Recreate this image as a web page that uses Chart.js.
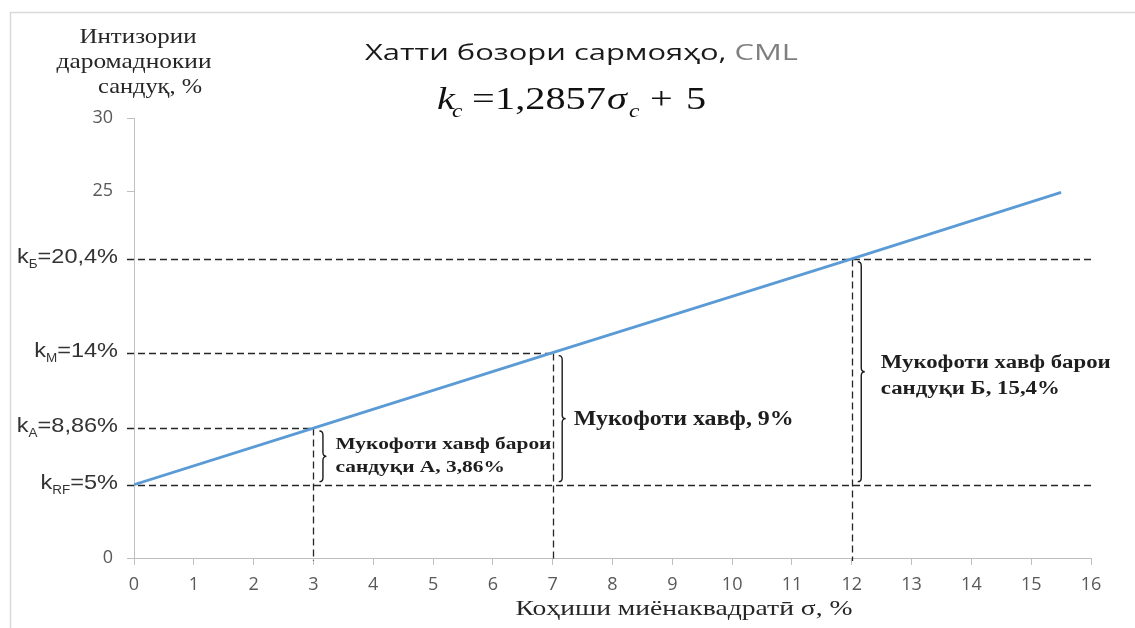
<!DOCTYPE html>
<html>
<head>
<meta charset="utf-8">
<script src="https://cdn.jsdelivr.net/npm/chart.js@4.4.1/dist/chart.umd.min.js"></script>
<style>
    html, body { margin: 0; padding: 0; background: #fff; }
    #wrap { width: 1135px; height: 628px; position: relative; }
</style>
</head>
<body>
<div id="wrap"><canvas id="cmlChart"></canvas></div>
<script>
// Capital market line: k = 1,2857 * sigma + 5
const sigmaValues = [0, 3, 7, 12, 15.5];
const returnValues = [5, 8.86, 14, 20.4, 24.93];

// marked portfolios: risk free, A, market, Б
const markSubs = ['RF', 'A', 'M', 'Б'];
const markSigma = [0, 3, 7, 12];
const markReturn = [5, 8.86, 14, 20.4];
const markText = ['=5%', '=8,86%', '=14%', '=20,4%'];
const guideEnd = [16, 3, 7, 16];

const yTickLabels = [0, 25, 30];

const premiumLines = [
    ['Мукофоти хавф барои', 'сандуқи А, 3,86%'],
    ['Мукофоти хавф, 9%'],
    ['Мукофоти хавф барои', 'сандуқи Б, 15,4%']
];

const AXIS_GRAY = '#bfbfbf';
const TEXT_DARK = '#1e1e1e';

// draw text squeezed/stretched to a given width
function fitText(ctx, text, x, y, w, align) {
    const m = ctx.measureText(text).width;
    ctx.save();
    ctx.translate(x, y);
    ctx.scale(w / m, 1);
    ctx.textAlign = align || 'left';
    ctx.fillText(text, 0, 0);
    ctx.restore();
}

function drawStretched(ctx, text, x, y, sx) {
    ctx.save();
    ctx.translate(x, y);
    ctx.scale(sx, 1);
    ctx.textAlign = 'left';
    ctx.fillText(text, 0, 0);
    ctx.restore();
}

function drawBrace(ctx, x, yTop, yBot, w) {
    const mid = (yTop + yBot) / 2;
    const r = 4;
    const cx = x + w / 2;
    ctx.beginPath();
    ctx.moveTo(x, yTop);
    ctx.quadraticCurveTo(cx, yTop, cx, yTop + r);
    ctx.lineTo(cx, mid - r);
    ctx.quadraticCurveTo(cx, mid, x + w, mid);
    ctx.quadraticCurveTo(cx, mid, cx, mid + r);
    ctx.lineTo(cx, yBot - r);
    ctx.quadraticCurveTo(cx, yBot, x, yBot);
    ctx.stroke();
}

const cmlDecor = {
    id: 'cmlDecor',
    beforeDraw(chart) {
        const ctx = chart.ctx;
        ctx.save();
        ctx.fillStyle = '#fff';
        ctx.fillRect(0, 0, chart.width, chart.height);
        // outer frame (only top and left are inside the picture)
        ctx.strokeStyle = '#d9d9d9';
        ctx.lineWidth = 1.5;
        ctx.beginPath();
        ctx.moveTo(10.5, chart.height);
        ctx.lineTo(10.5, 12.5);
        ctx.lineTo(chart.width, 12.5);
        ctx.stroke();
        ctx.restore();
    },
    beforeDatasetsDraw(chart) {
        const {ctx, scales: {x, y}} = chart;
        ctx.save();
        ctx.strokeStyle = '#262626';
        ctx.lineWidth = 1.3;
        ctx.setLineDash([7, 4]);
        markReturn.forEach((v, i) => {
            const py = Math.round(y.getPixelForValue(v)) + 0.5;
            ctx.beginPath();
            ctx.moveTo(x.left - 7, py);
            ctx.lineTo(x.getPixelForValue(guideEnd[i]), py);
            ctx.stroke();
            if (markSigma[i] > 0) {
                const px = Math.round(x.getPixelForValue(markSigma[i])) + 0.5;
                ctx.beginPath();
                ctx.moveTo(px, py);
                ctx.lineTo(px, y.getPixelForValue(0) + 3);
                ctx.stroke();
            }
        });
        ctx.restore();
    },
    afterDraw(chart) {
        const {ctx, scales: {x, y}} = chart;
        ctx.save();
        ctx.textBaseline = 'alphabetic';

        // title
        ctx.font = "22px 'Open Sans'";
        const t1 = 'Хатти бозори сармояҳо,';
        const t2 = ' CML';
        const w1 = ctx.measureText(t1).width;
        const w2 = ctx.measureText(t2).width;
        const sx = 433 / (w1 + w2);
        ctx.fillStyle = '#1a1a1a';
        drawStretched(ctx, t1, 365, 60, sx);
        ctx.fillStyle = '#7f7f7f';
        drawStretched(ctx, t2, 365 + w1 * sx, 60, sx);

        // formula
        ctx.fillStyle = '#111';
        const eq = 1.3;
        ctx.font = "italic 31px 'Liberation Serif'";
        drawStretched(ctx, 'k', 437, 109, eq);
        drawStretched(ctx, 'σ', 607, 109, eq);
        ctx.font = "italic 18px 'Liberation Serif'";
        drawStretched(ctx, 'c', 452, 117, eq);
        drawStretched(ctx, 'c', 629, 117, eq);
        ctx.font = "31px 'Liberation Serif'";
        drawStretched(ctx, '=', 472, 109, eq);
        drawStretched(ctx, '1,2857', 495, 109, eq);
        drawStretched(ctx, '+', 650, 109, eq);
        drawStretched(ctx, '5', 686, 109, eq);

        // y axis title
        ctx.fillStyle = '#262626';
        ctx.font = "21px 'Liberation Serif'";
        fitText(ctx, 'Интизории', 138, 43, 117, 'center');
        fitText(ctx, 'даромаднокии', 134, 68, 155, 'center');
        fitText(ctx, 'сандуқ, %', 150, 93, 104, 'center');

        // x axis title
        ctx.font = "22px 'Liberation Serif'";
        fitText(ctx, 'Коҳиши миёнаквадратӣ σ, %', 684, 615, 337, 'center');

        // k labels on the y axis
        ctx.fillStyle = '#333';
        markReturn.forEach((v, i) => {
            const py = y.getPixelForValue(v);
            const s = 1.12;
            ctx.font = "21px 'Liberation Sans'";
            const wk = ctx.measureText('k').width * s;
            const wt = ctx.measureText(markText[i]).width * s;
            ctx.font = "12px 'Liberation Sans'";
            const ws = ctx.measureText(markSubs[i]).width * s;
            let px = 118 - (wk + ws + wt);
            ctx.font = "21px 'Liberation Sans'";
            drawStretched(ctx, 'k', px, py + 4, s);
            ctx.font = "12px 'Liberation Sans'";
            drawStretched(ctx, markSubs[i], px + wk, py + 9, s);
            ctx.font = "21px 'Liberation Sans'";
            drawStretched(ctx, markText[i], px + wk + ws, py + 4, s);
        });

        // braces with risk premium notes
        const textDx = [16, 15, 23];
        const fontSize = [16, 20, 18];
        const lineW = [216, 220, 230];
        const baseDy = [[-7, 16], [6], [-4, 22]];
        const yBase = y.getPixelForValue(markReturn[0]);
        ctx.strokeStyle = '#1a1a1a';
        ctx.lineWidth = 1.4;
        premiumLines.forEach((lines, j) => {
            const i = j + 1;
            const bx = x.getPixelForValue(markSigma[i]) + 6;
            const yTop = y.getPixelForValue(markReturn[i]) + 3;
            const yBot = yBase - 3;
            drawBrace(ctx, bx, yTop, yBot, 7);
            const mid = (y.getPixelForValue(markReturn[i]) + yBase) / 2;
            ctx.fillStyle = TEXT_DARK;
            ctx.font = 'bold ' + fontSize[j] + "px 'Liberation Serif'";
            const s = lineW[j] / ctx.measureText(lines[0]).width;
            lines.forEach((line, k) => {
                drawStretched(ctx, line, bx + textDx[j], mid + baseDy[j][k], s);
            });
        });
        ctx.restore();
    }
};

window.addEventListener('load', function() {
    const ctx = document.getElementById('cmlChart').getContext('2d');
    new Chart(ctx, {
        type: 'line',
        data: {
            datasets: [{
                label: 'CML',
                data: sigmaValues.map((s, i) => ({x: s, y: returnValues[i]})),
                borderColor: '#5b9bd5',
                borderWidth: 2.8,
                pointRadius: 0,
                tension: 0,
                fill: false
            }]
        },
        options: {
            responsive: true,
            maintainAspectRatio: false,
            animation: false,
            layout: {
                padding: {left: 0, right: 44, top: 118, bottom: 0}
            },
            plugins: {
                legend: {display: false},
                tooltip: {enabled: false},
                title: {display: false}
            },
            scales: {
                x: {
                    type: 'linear',
                    min: 0,
                    max: 16,
                    afterFit: function(scale) { scale.height = 70; },
                    border: {color: AXIS_GRAY, width: 1},
                    grid: {
                        drawOnChartArea: false,
                        drawTicks: true,
                        tickLength: 7,
                        color: AXIS_GRAY
                    },
                    ticks: {
                        stepSize: 1,
                        padding: 9,
                        color: '#595959',
                        font: {family: "'Open Sans'", size: 18}
                    }
                },
                y: {
                    min: 0,
                    max: 30,
                    afterFit: function(scale) { scale.width = 134; },
                    border: {color: AXIS_GRAY, width: 1},
                    grid: {
                        drawOnChartArea: false,
                        drawTicks: true,
                        tickLength: 7,
                        color: function(c) {
                            return (c.tick && yTickLabels.includes(c.tick.value)) ? AXIS_GRAY : 'rgba(0,0,0,0)';
                        }
                    },
                    ticks: {
                        stepSize: 5,
                        padding: 14,
                        color: '#595959',
                        font: {family: "'Open Sans'", size: 18},
                        callback: function(value) {
                            return yTickLabels.includes(value) ? String(value) : '';
                        }
                    }
                }
            }
        },
        plugins: [cmlDecor]
    });
});
</script>
</body>
</html>
